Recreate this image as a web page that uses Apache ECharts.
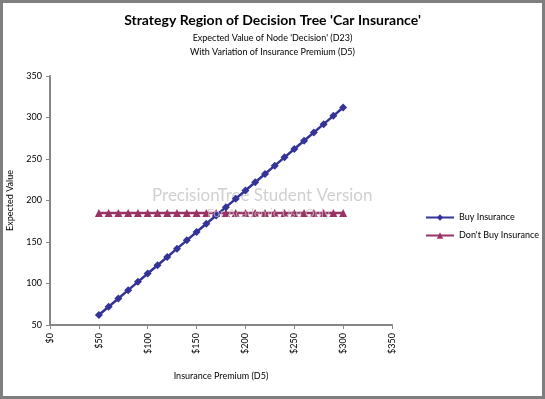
<!DOCTYPE html>
<html>
<head>
<meta charset="utf-8">
<script src="https://cdn.jsdelivr.net/npm/echarts@6/dist/echarts.min.js"></script>
<style>
  html, body { margin: 0; padding: 0; background: #fff; }
  #chart { width: 545px; height: 399px; }
</style>
</head>
<body>
<div id="chart"></div>
<script>
// premium values ($) on the x axis
const premiums = [50, 60, 70, 80, 90, 100, 110, 120, 130, 140, 150, 160, 170, 180, 190,
  200, 210, 220, 230, 240, 250, 260, 270, 280, 290, 300];
// expected value of buying insurance
const buyValues = [62, 72, 82, 92, 102, 112, 122, 132, 142, 152, 162, 172, 182, 192, 202,
  212, 222, 232, 242, 252, 262, 272, 282, 292, 302, 312];
// expected value of not buying
const dontBuyValues = [185, 185, 185, 185, 185, 185, 185, 185, 185, 185, 185, 185, 185, 185, 185,
  185, 185, 185, 185, 185, 185, 185, 185, 185, 185, 185];
const seriesNames = ['Buy Insurance', "Don't Buy Insurance"];

const font = 'Lato';
const axisGray = '#868686';

const chart = echarts.init(document.getElementById('chart'));

function pairs(xs, ys) {
  return xs.map((x, i) => [x, ys[i]]);
}

const option = {
  backgroundColor: '#fff',
  animation: false,
  textStyle: { fontFamily: font },
  title: {
    text: "Strategy Region of Decision Tree 'Car Insurance'",
    subtext: "Expected Value of Node 'Decision' (D23)\nWith Variation of Insurance Premium (D5)",
    left: 'center',
    top: 8,
    itemGap: 4,
    textStyle: { fontFamily: font, fontSize: 14, fontWeight: 'bold', color: '#000' },
    subtextStyle: { fontFamily: font, fontSize: 9, color: '#000', lineHeight: 14 }
  },
  grid: { left: 50, right: 153, top: 76, bottom: 74, outerBoundsMode: 'none' },
  legend: {
    orient: 'vertical',
    left: 420,
    top: 208,
    itemGap: 9,
    itemWidth: 28,
    itemHeight: 8,
    textStyle: { fontFamily: font, fontSize: 9, color: '#000' },
    data: seriesNames
  },
  xAxis: {
    type: 'value',
    min: 0,
    max: 350,
    interval: 50,
    name: 'Insurance Premium (D5)',
    nameLocation: 'middle',
    nameGap: 47,
    nameTextStyle: { fontFamily: font, fontSize: 9, color: '#000' },
    axisLine: { lineStyle: { color: axisGray, width: 2 } },
    axisTick: { lineStyle: { color: axisGray }, length: 4 },
    splitLine: { show: false },
    axisLabel: {
      rotate: 90,
      fontSize: 9,
      color: '#000',
      margin: 8,
      formatter: v => '$' + v
    }
  },
  yAxis: {
    type: 'value',
    min: 50,
    max: 350,
    interval: 50,
    name: 'Expected Value',
    nameLocation: 'middle',
    nameRotate: 90,
    nameGap: 35,
    nameTextStyle: { fontFamily: font, fontSize: 9, color: '#000' },
    axisLine: { show: true, lineStyle: { color: axisGray, width: 2 } },
    axisTick: { show: true, lineStyle: { color: axisGray }, length: 4 },
    splitLine: { show: false },
    axisLabel: { fontSize: 9, color: '#000', margin: 8 }
  },
  graphic: [
    {
      type: 'rect',
      shape: { x: 1.5, y: 1.5, width: 542, height: 396 },
      style: { fill: 'none', stroke: '#7f7f7f', lineWidth: 3 },
      silent: true
    },
    {
      type: 'text',
      left: 152,
      top: 187,
      style: { text: 'PrecisionTree Student Version', fontFamily: font, fontSize: 17, fill: '#d0d0d0' },
      z: 0,
      silent: true
    },
    {
      type: 'text',
      left: 207,
      top: 207,
      style: { text: 'For Academic Use Only', fontFamily: font, fontSize: 12, fill: 'rgba(200,200,200,0.7)' },
      z: 10,
      silent: true
    }
  ],
  series: [
    {
      name: seriesNames[0],
      type: 'line',
      data: pairs(premiums, buyValues),
      symbol: 'diamond',
      symbolSize: 8,
      color: '#333399',
      lineStyle: { width: 2.5, color: '#333399' },
      itemStyle: { color: '#333399' },
      z: 3
    },
    {
      name: seriesNames[1],
      type: 'line',
      data: pairs(premiums, dontBuyValues),
      symbol: 'triangle',
      symbolSize: 8,
      color: '#993366',
      lineStyle: { width: 2.5, color: '#993366' },
      itemStyle: { color: '#993366' },
      z: 2
    }
  ]
};

chart.setOption(option);
</script>
</body>
</html>
